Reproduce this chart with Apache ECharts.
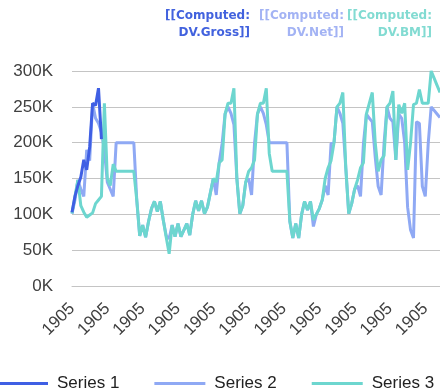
<!DOCTYPE html>
<html>
<head>
<meta charset="utf-8">
<script src="https://cdn.jsdelivr.net/npm/echarts@6/dist/echarts.min.js"></script>
<style>
  html, body { margin: 0; padding: 0; background: #ffffff; }
  #chart { width: 440px; height: 391px; }
</style>
</head>
<body>
<div id="chart"></div>
<script>
// Period values for the three measures (Gross, Net, BM)
const seriesNames = ['Series 1', 'Series 2', 'Series 3'];
const headerLabels = ['[[Computed:\nDV.Gross]]', '[[Computed:\nDV.Net]]', '[[Computed:\nDV.BM]]'];
const tickLabel = '1905';

const gross = [103000, 125000, 140000, 152000, 176000, 162000, 194000, 255000, 252000, 276000,
  205000];

const net = [101000, 120000, 148000, 135000, 125000, 190000, 175000, 255000, 234000, 227000,
  215000, 190000, 145000, 135000, 125000, 200000, 200000, 200000, 200000, 200000,
  200000, 200000, 120000, 70000, 85000, 68000, 90000, 108000, 118000, 104000,
  118000, 92000, 70000, 66000, 85000, 69000, 87000, 69000, 78000, 87000,
  71000, 100000, 119000, 105000, 119000, 101000, 110000, 130000, 150000, 127000,
  172000, 199000, 240000, 250000, 241000, 225000, 150000, 101000, 112000, 145000,
  150000, 127000, 199000, 240000, 250000, 241000, 225000, 200000, 200000, 200000,
  200000, 200000, 200000, 200000, 90000, 67000, 87000, 67000, 100000, 118000,
  106000, 118000, 83000, 100000, 108000, 120000, 140000, 127000, 199000, 200000,
  250000, 241000, 227000, 165000, 101000, 115000, 135000, 140000, 125000, 199000,
  240000, 234000, 229000, 180000, 139000, 127000, 199000, 250000, 234000, 229000,
  176000, 240000, 234000, 200000, 110000, 78000, 67000, 229000, 227000, 139000,
  125000, 199000, 250000, 245000, 240000, 235000];

const bm = [101000, 125000, 148000, 112000, 103000, 96000, 99000, 102000, 115000, 120000,
  125000, 255000, 150000, 140000, 170000, 160000, 160000, 160000, 160000, 160000,
  160000, 160000, 120000, 70000, 85000, 68000, 90000, 108000, 118000, 104000,
  118000, 92000, 68000, 45000, 85000, 69000, 87000, 69000, 78000, 87000,
  71000, 100000, 119000, 105000, 119000, 101000, 110000, 130000, 150000, 145000,
  172000, 176000, 240000, 255000, 255000, 276000, 150000, 101000, 112000, 145000,
  160000, 165000, 176000, 240000, 255000, 255000, 276000, 185000, 160000, 160000,
  160000, 160000, 160000, 160000, 90000, 67000, 87000, 67000, 100000, 118000,
  106000, 118000, 92000, 100000, 108000, 120000, 150000, 165000, 175000, 200000,
  250000, 255000, 270000, 165000, 101000, 115000, 135000, 148000, 165000, 172000,
  240000, 255000, 270000, 200000, 160000, 176000, 182000, 250000, 255000, 272000,
  176000, 253000, 241000, 255000, 162000, 200000, 253000, 255000, 274000, 255000,
  255000, 255000, 300000, 290000, 280000, 270000];

const categories = bm.map(() => tickLabel);

const colors = ['#3f5fe4', '#8fa9f4', '#6dd6cf'];
const headerColors = ['#4262de', '#a3b3f4', '#82dbd2'];

const chart = echarts.init(document.getElementById('chart'), null, { renderer: 'canvas' });

const axisFont = { fontFamily: 'Liberation Sans, Arial, sans-serif', fontSize: 17, color: '#404040' };

const headerX = [250, 344, 432];

chart.setOption({
  animation: false,
  color: colors,
  grid: { left: 72, top: 71, right: -9, bottom: 105, containLabel: false },
  legend: {
    data: seriesNames,
    orient: 'horizontal',
    left: -3,
    top: 375,
    width: 700,
    padding: 0,
    icon: 'rect',
    itemWidth: 51,
    itemHeight: 3,
    itemGap: 35,
    textStyle: Object.assign({}, axisFont, { color: '#222', padding: [0, 0, 0, 4] })
  },
  graphic: headerLabels.map((t, i) => ({
    type: 'text',
    x: headerX[i],
    y: 8,
    style: {
      text: t,
      align: 'right',
      verticalAlign: 'top',
      fill: headerColors[i],
      font: 'bold 12px "DejaVu Sans", sans-serif',
      lineHeight: 16.5
    }
  })),
  xAxis: {
    type: 'category',
    data: categories,
    boundaryGap: false,
    axisLine: { show: true, lineStyle: { color: '#c4c4c4', width: 1 } },
    axisTick: { show: false },
    axisLabel: Object.assign({}, axisFont, { interval: 11, rotate: 45, margin: 20 }),
    splitLine: { show: false }
  },
  yAxis: {
    type: 'value',
    min: 0,
    max: 300000,
    interval: 50000,
    axisLine: { show: false },
    axisTick: { show: false },
    axisLabel: Object.assign({}, axisFont, { margin: 19, formatter: v => (v / 1000) + 'K' }),
    splitLine: { lineStyle: { color: '#c4c4c4', width: 1 } }
  },
  series: [
    { name: seriesNames[0], type: 'line', data: gross, symbol: 'none', z: 4, lineStyle: { width: 3 } },
    { name: seriesNames[1], type: 'line', data: net, symbol: 'none', z: 2, lineStyle: { width: 3 } },
    { name: seriesNames[2], type: 'line', data: bm, symbol: 'none', z: 3, lineStyle: { width: 3 } }
  ]
});
</script>
</body>
</html>
